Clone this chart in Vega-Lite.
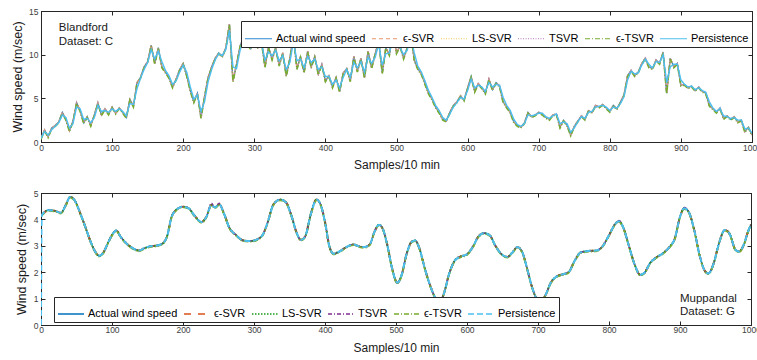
{
"$schema":"https://vega.github.io/schema/vega-lite/v6.json",
"padding":{"left":10,"top":6,"right":2,"bottom":0},
"config":{"font":"Liberation Sans","view":{"stroke":"#262626","strokeWidth":1},
"axis":{"grid":false,"tickSize":-4,"tickColor":"#262626","domainColor":"#262626","labelFontSize":8.5,"labelColor":"#404040","titleFontSize":12,"titleFontWeight":"normal","titleColor":"#1a1a1a","labelFont":"Liberation Sans","titleFont":"Liberation Sans","labelFlush":false,"labelOverlap":false,"labelBound":false},
"axisY":{"labelOverlap":false,"labelSeparation":0},"axisLeft":{"labelOverlap":false}},
"columns":1,"align":"none","spacing":17,
"resolve":{"scale":{"color":"independent","strokeDash":"independent"}},
"concat":[
{"width":711,"height":131,
"data":{"values":[
{"x":0,"a":0.4,"e":0.4,"l":0.4,"t":0.4,"g":0.3,"p":0.4},
{"x":5,"a":1.4,"e":1.4,"l":1.4,"t":1.4,"g":1.3,"p":1.2},
{"x":10,"a":0.6,"e":0.6,"l":0.6,"t":0.6,"g":0.5,"p":0.8},
{"x":15,"a":1.6,"e":1.6,"l":1.6,"t":1.6,"g":1.5,"p":1.4},
{"x":20,"a":1.9,"e":1.9,"l":1.9,"t":1.9,"g":1.8,"p":1.8},
{"x":25,"a":2.3,"e":2.3,"l":2.3,"t":2.3,"g":2.2,"p":2.2},
{"x":30,"a":3.4,"e":3.4,"l":3.4,"t":3.4,"g":3.3,"p":3.1},
{"x":35,"a":2.6,"e":2.6,"l":2.6,"t":2.6,"g":2.5,"p":2.8},
{"x":40,"a":1.3,"e":1.3,"l":1.3,"t":1.3,"g":1.2,"p":1.6},
{"x":45,"a":2.4,"e":2.4,"l":2.4,"t":2.4,"g":2.3,"p":2.1},
{"x":50,"a":4.5,"e":4.5,"l":4.5,"t":4.5,"g":4.4,"p":4.0},
{"x":55,"a":3.6,"e":3.6,"l":3.6,"t":3.6,"g":3.5,"p":3.8},
{"x":60,"a":2.2,"e":2.2,"l":2.2,"t":2.2,"g":2.1,"p":2.6},
{"x":65,"a":2.9,"e":2.9,"l":2.9,"t":2.9,"g":2.8,"p":2.7},
{"x":70,"a":1.9,"e":1.9,"l":1.9,"t":1.9,"g":1.8,"p":2.2},
{"x":75,"a":3.1,"e":3.1,"l":3.1,"t":3.1,"g":3.0,"p":2.8},
{"x":80,"a":4.5,"e":4.5,"l":4.5,"t":4.5,"g":4.4,"p":4.2},
{"x":85,"a":3.1,"e":3.1,"l":3.1,"t":3.1,"g":3.0,"p":3.5},
{"x":90,"a":3.8,"e":3.8,"l":3.8,"t":3.8,"g":3.7,"p":3.6},
{"x":95,"a":3.2,"e":3.2,"l":3.2,"t":3.2,"g":3.1,"p":3.4},
{"x":100,"a":4.0,"e":4.0,"l":4.0,"t":4.0,"g":3.9,"p":3.8},
{"x":105,"a":3.3,"e":3.3,"l":3.3,"t":3.3,"g":3.2,"p":3.5},
{"x":110,"a":3.9,"e":3.9,"l":3.9,"t":3.9,"g":3.8,"p":3.8},
{"x":115,"a":3.4,"e":3.4,"l":3.4,"t":3.4,"g":3.3,"p":3.5},
{"x":120,"a":2.8,"e":2.8,"l":2.8,"t":2.8,"g":2.7,"p":3.0},
{"x":125,"a":4.9,"e":4.9,"l":4.9,"t":4.9,"g":4.8,"p":4.4},
{"x":130,"a":4.1,"e":4.1,"l":4.1,"t":4.1,"g":4.0,"p":4.3},
{"x":135,"a":6.8,"e":6.8,"l":6.8,"t":6.8,"g":6.7,"p":6.1},
{"x":140,"a":7.4,"e":7.4,"l":7.4,"t":7.4,"g":7.3,"p":7.3},
{"x":145,"a":8.6,"e":8.6,"l":8.6,"t":8.6,"g":8.5,"p":8.3},
{"x":150,"a":9.2,"e":9.2,"l":9.2,"t":9.2,"g":9.1,"p":9.1},
{"x":155,"a":11.1,"e":11.1,"l":11.1,"t":11.1,"g":11.0,"p":10.6},
{"x":160,"a":9.0,"e":9.0,"l":9.0,"t":9.0,"g":8.9,"p":9.5},
{"x":165,"a":10.8,"e":10.8,"l":10.8,"t":10.8,"g":10.7,"p":10.4},
{"x":170,"a":8.6,"e":8.6,"l":8.6,"t":8.6,"g":8.5,"p":9.2},
{"x":175,"a":8.0,"e":8.0,"l":8.0,"t":8.0,"g":7.9,"p":8.2},
{"x":180,"a":7.4,"e":7.4,"l":7.4,"t":7.4,"g":7.3,"p":7.6},
{"x":185,"a":6.3,"e":6.3,"l":6.3,"t":6.3,"g":6.2,"p":6.6},
{"x":190,"a":7.2,"e":7.2,"l":7.2,"t":7.2,"g":7.1,"p":7.0},
{"x":195,"a":8.3,"e":8.3,"l":8.3,"t":8.3,"g":8.2,"p":8.0},
{"x":200,"a":9.0,"e":9.0,"l":9.0,"t":9.0,"g":8.9,"p":8.8},
{"x":205,"a":7.6,"e":7.6,"l":7.6,"t":7.6,"g":7.5,"p":8.0},
{"x":210,"a":5.9,"e":5.9,"l":5.9,"t":5.9,"g":5.8,"p":6.3},
{"x":215,"a":4.6,"e":4.6,"l":4.6,"t":4.6,"g":4.5,"p":4.9},
{"x":220,"a":5.6,"e":5.6,"l":5.6,"t":5.6,"g":5.5,"p":5.4},
{"x":225,"a":2.8,"e":2.8,"l":2.8,"t":2.8,"g":2.7,"p":3.5},
{"x":230,"a":5.2,"e":5.2,"l":5.2,"t":5.2,"g":5.1,"p":4.6},
{"x":235,"a":7.4,"e":7.4,"l":7.4,"t":7.4,"g":7.3,"p":6.9},
{"x":240,"a":8.6,"e":8.6,"l":8.6,"t":8.6,"g":8.5,"p":8.3},
{"x":245,"a":9.6,"e":9.6,"l":9.6,"t":9.6,"g":9.5,"p":9.4},
{"x":250,"a":10.2,"e":10.2,"l":10.2,"t":10.2,"g":10.1,"p":10.1},
{"x":255,"a":9.8,"e":9.8,"l":9.8,"t":9.8,"g":9.7,"p":9.9},
{"x":260,"a":10.8,"e":10.8,"l":10.8,"t":10.8,"g":10.7,"p":10.6},
{"x":265,"a":13.5,"e":13.5,"l":13.5,"t":13.5,"g":13.4,"p":12.8},
{"x":270,"a":7.0,"e":7.0,"l":7.0,"t":7.0,"g":6.9,"p":8.6},
{"x":275,"a":8.9,"e":8.9,"l":8.9,"t":8.9,"g":8.8,"p":8.4},
{"x":280,"a":11.0,"e":11.0,"l":11.0,"t":11.0,"g":10.9,"p":10.5},
{"x":285,"a":12.0,"e":12.0,"l":12.0,"t":12.0,"g":11.9,"p":11.8},
{"x":290,"a":11.2,"e":11.2,"l":11.2,"t":11.2,"g":11.1,"p":11.4},
{"x":295,"a":10.7,"e":10.7,"l":10.7,"t":10.7,"g":10.6,"p":10.8},
{"x":300,"a":11.8,"e":11.8,"l":11.8,"t":11.8,"g":11.7,"p":11.5},
{"x":305,"a":10.8,"e":10.8,"l":10.8,"t":10.8,"g":10.7,"p":11.1},
{"x":310,"a":11.6,"e":11.6,"l":11.6,"t":11.6,"g":11.5,"p":11.4},
{"x":315,"a":8.6,"e":8.6,"l":8.6,"t":8.6,"g":8.5,"p":9.4},
{"x":320,"a":10.9,"e":10.9,"l":10.9,"t":10.9,"g":10.8,"p":10.3},
{"x":325,"a":9.5,"e":9.5,"l":9.5,"t":9.5,"g":9.4,"p":9.9},
{"x":330,"a":10.8,"e":10.8,"l":10.8,"t":10.8,"g":10.7,"p":10.5},
{"x":335,"a":8.8,"e":8.8,"l":8.8,"t":8.8,"g":8.7,"p":9.3},
{"x":340,"a":10.2,"e":10.2,"l":10.2,"t":10.2,"g":10.1,"p":9.9},
{"x":345,"a":7.6,"e":7.6,"l":7.6,"t":7.6,"g":7.5,"p":8.3},
{"x":350,"a":9.6,"e":9.6,"l":9.6,"t":9.6,"g":9.5,"p":9.1},
{"x":355,"a":12.1,"e":12.1,"l":12.1,"t":12.1,"g":12.0,"p":11.5},
{"x":360,"a":8.4,"e":8.4,"l":8.4,"t":8.4,"g":8.3,"p":9.3},
{"x":365,"a":9.8,"e":9.8,"l":9.8,"t":9.8,"g":9.7,"p":9.5},
{"x":370,"a":8.0,"e":8.0,"l":8.0,"t":8.0,"g":7.9,"p":8.5},
{"x":375,"a":10.4,"e":10.4,"l":10.4,"t":10.4,"g":10.3,"p":9.8},
{"x":380,"a":8.6,"e":8.6,"l":8.6,"t":8.6,"g":8.5,"p":9.1},
{"x":385,"a":9.8,"e":9.8,"l":9.8,"t":9.8,"g":9.7,"p":9.5},
{"x":390,"a":7.8,"e":7.8,"l":7.8,"t":7.8,"g":7.7,"p":8.3},
{"x":395,"a":8.9,"e":8.9,"l":8.9,"t":8.9,"g":8.8,"p":8.6},
{"x":400,"a":7.0,"e":7.0,"l":7.0,"t":7.0,"g":6.9,"p":7.5},
{"x":405,"a":7.6,"e":7.6,"l":7.6,"t":7.6,"g":7.5,"p":7.5},
{"x":410,"a":6.3,"e":6.3,"l":6.3,"t":6.3,"g":6.2,"p":6.6},
{"x":415,"a":7.4,"e":7.4,"l":7.4,"t":7.4,"g":7.3,"p":7.1},
{"x":420,"a":5.8,"e":5.8,"l":5.8,"t":5.8,"g":5.7,"p":6.2},
{"x":425,"a":7.9,"e":7.9,"l":7.9,"t":7.9,"g":7.8,"p":7.4},
{"x":430,"a":8.4,"e":8.4,"l":8.4,"t":8.4,"g":8.3,"p":8.3},
{"x":435,"a":7.0,"e":7.0,"l":7.0,"t":7.0,"g":6.9,"p":7.4},
{"x":440,"a":9.8,"e":9.8,"l":9.8,"t":9.8,"g":9.7,"p":9.1},
{"x":445,"a":8.1,"e":8.1,"l":8.1,"t":8.1,"g":8.0,"p":8.5},
{"x":450,"a":9.6,"e":9.6,"l":9.6,"t":9.6,"g":9.5,"p":9.2},
{"x":455,"a":7.4,"e":7.4,"l":7.4,"t":7.4,"g":7.3,"p":8.0},
{"x":460,"a":10.4,"e":10.4,"l":10.4,"t":10.4,"g":10.3,"p":9.7},
{"x":465,"a":8.5,"e":8.5,"l":8.5,"t":8.5,"g":8.4,"p":9.0},
{"x":470,"a":10.1,"e":10.1,"l":10.1,"t":10.1,"g":10.0,"p":9.7},
{"x":475,"a":11.6,"e":11.6,"l":11.6,"t":11.6,"g":11.5,"p":11.2},
{"x":480,"a":7.9,"e":7.9,"l":7.9,"t":7.9,"g":7.8,"p":8.8},
{"x":485,"a":10.8,"e":10.8,"l":10.8,"t":10.8,"g":10.7,"p":10.1},
{"x":490,"a":10.0,"e":10.0,"l":10.0,"t":10.0,"g":9.9,"p":10.2},
{"x":495,"a":12.8,"e":12.8,"l":12.8,"t":12.8,"g":12.7,"p":12.1},
{"x":500,"a":10.2,"e":10.2,"l":10.2,"t":10.2,"g":10.1,"p":10.9},
{"x":505,"a":11.0,"e":11.0,"l":11.0,"t":11.0,"g":10.9,"p":10.8},
{"x":510,"a":9.6,"e":9.6,"l":9.6,"t":9.6,"g":9.5,"p":10.0},
{"x":515,"a":10.8,"e":10.8,"l":10.8,"t":10.8,"g":10.7,"p":10.5},
{"x":520,"a":12.5,"e":12.5,"l":12.5,"t":12.5,"g":12.4,"p":12.1},
{"x":525,"a":9.4,"e":9.4,"l":9.4,"t":9.4,"g":9.3,"p":10.2},
{"x":530,"a":8.4,"e":8.4,"l":8.4,"t":8.4,"g":8.3,"p":8.7},
{"x":535,"a":7.8,"e":7.8,"l":7.8,"t":7.8,"g":7.7,"p":8.0},
{"x":540,"a":6.7,"e":6.7,"l":6.7,"t":6.7,"g":6.6,"p":7.0},
{"x":545,"a":5.6,"e":5.6,"l":5.6,"t":5.6,"g":5.5,"p":5.9},
{"x":550,"a":4.9,"e":4.9,"l":4.9,"t":4.9,"g":4.8,"p":5.1},
{"x":555,"a":4.0,"e":4.0,"l":4.0,"t":4.0,"g":3.9,"p":4.2},
{"x":560,"a":3.4,"e":3.4,"l":3.4,"t":3.4,"g":3.3,"p":3.6},
{"x":565,"a":2.6,"e":2.6,"l":2.6,"t":2.6,"g":2.5,"p":2.8},
{"x":570,"a":2.4,"e":2.4,"l":2.4,"t":2.4,"g":2.3,"p":2.5},
{"x":575,"a":3.4,"e":3.4,"l":3.4,"t":3.4,"g":3.3,"p":3.2},
{"x":580,"a":4.2,"e":4.2,"l":4.2,"t":4.2,"g":4.1,"p":4.0},
{"x":585,"a":4.6,"e":4.6,"l":4.6,"t":4.6,"g":4.5,"p":4.5},
{"x":590,"a":5.3,"e":5.3,"l":5.3,"t":5.3,"g":5.2,"p":5.1},
{"x":595,"a":4.8,"e":4.8,"l":4.8,"t":4.8,"g":4.7,"p":4.9},
{"x":600,"a":6.2,"e":6.2,"l":6.2,"t":6.2,"g":6.1,"p":5.9},
{"x":605,"a":7.5,"e":7.5,"l":7.5,"t":7.5,"g":7.4,"p":7.2},
{"x":610,"a":5.8,"e":5.8,"l":5.8,"t":5.8,"g":5.7,"p":6.2},
{"x":615,"a":6.7,"e":6.7,"l":6.7,"t":6.7,"g":6.6,"p":6.5},
{"x":620,"a":6.2,"e":6.2,"l":6.2,"t":6.2,"g":6.1,"p":6.3},
{"x":625,"a":5.6,"e":5.6,"l":5.6,"t":5.6,"g":5.5,"p":5.8},
{"x":630,"a":7.2,"e":7.2,"l":7.2,"t":7.2,"g":7.1,"p":6.8},
{"x":635,"a":6.0,"e":6.0,"l":6.0,"t":6.0,"g":5.9,"p":6.3},
{"x":640,"a":6.8,"e":6.8,"l":6.8,"t":6.8,"g":6.7,"p":6.6},
{"x":645,"a":6.4,"e":6.4,"l":6.4,"t":6.4,"g":6.3,"p":6.5},
{"x":650,"a":4.6,"e":4.6,"l":4.6,"t":4.6,"g":4.5,"p":5.1},
{"x":655,"a":4.0,"e":4.0,"l":4.0,"t":4.0,"g":3.9,"p":4.2},
{"x":660,"a":3.4,"e":3.4,"l":3.4,"t":3.4,"g":3.3,"p":3.6},
{"x":665,"a":2.3,"e":2.3,"l":2.3,"t":2.3,"g":2.2,"p":2.6},
{"x":670,"a":1.9,"e":1.9,"l":1.9,"t":1.9,"g":1.8,"p":2.0},
{"x":675,"a":1.7,"e":1.7,"l":1.7,"t":1.7,"g":1.6,"p":1.8},
{"x":680,"a":2.2,"e":2.2,"l":2.2,"t":2.2,"g":2.1,"p":2.1},
{"x":685,"a":3.4,"e":3.4,"l":3.4,"t":3.4,"g":3.3,"p":3.1},
{"x":690,"a":2.9,"e":2.9,"l":2.9,"t":2.9,"g":2.8,"p":3.0},
{"x":695,"a":3.1,"e":3.1,"l":3.1,"t":3.1,"g":3.0,"p":3.1},
{"x":700,"a":3.4,"e":3.4,"l":3.4,"t":3.4,"g":3.3,"p":3.3},
{"x":705,"a":3.2,"e":3.2,"l":3.2,"t":3.2,"g":3.1,"p":3.3},
{"x":710,"a":2.8,"e":2.8,"l":2.8,"t":2.8,"g":2.7,"p":2.9},
{"x":715,"a":2.6,"e":2.6,"l":2.6,"t":2.6,"g":2.5,"p":2.7},
{"x":720,"a":3.1,"e":3.1,"l":3.1,"t":3.1,"g":3.0,"p":3.0},
{"x":725,"a":3.2,"e":3.2,"l":3.2,"t":3.2,"g":3.1,"p":3.2},
{"x":730,"a":1.7,"e":1.7,"l":1.7,"t":1.7,"g":1.6,"p":2.1},
{"x":735,"a":2.5,"e":2.5,"l":2.5,"t":2.5,"g":2.4,"p":2.3},
{"x":740,"a":1.9,"e":1.9,"l":1.9,"t":1.9,"g":1.8,"p":2.1},
{"x":745,"a":0.8,"e":0.8,"l":0.8,"t":0.8,"g":0.7,"p":1.1},
{"x":750,"a":1.8,"e":1.8,"l":1.8,"t":1.8,"g":1.7,"p":1.6},
{"x":755,"a":2.4,"e":2.4,"l":2.4,"t":2.4,"g":2.3,"p":2.3},
{"x":760,"a":3.0,"e":3.0,"l":3.0,"t":3.0,"g":2.9,"p":2.9},
{"x":765,"a":2.6,"e":2.6,"l":2.6,"t":2.6,"g":2.5,"p":2.7},
{"x":770,"a":3.6,"e":3.6,"l":3.6,"t":3.6,"g":3.5,"p":3.4},
{"x":775,"a":3.4,"e":3.4,"l":3.4,"t":3.4,"g":3.3,"p":3.5},
{"x":780,"a":4.2,"e":4.2,"l":4.2,"t":4.2,"g":4.1,"p":4.0},
{"x":785,"a":4.0,"e":4.0,"l":4.0,"t":4.0,"g":3.9,"p":4.1},
{"x":790,"a":4.3,"e":4.3,"l":4.3,"t":4.3,"g":4.2,"p":4.2},
{"x":795,"a":3.9,"e":3.9,"l":3.9,"t":3.9,"g":3.8,"p":4.0},
{"x":800,"a":3.5,"e":3.5,"l":3.5,"t":3.5,"g":3.4,"p":3.6},
{"x":805,"a":4.2,"e":4.2,"l":4.2,"t":4.2,"g":4.1,"p":4.0},
{"x":810,"a":3.8,"e":3.8,"l":3.8,"t":3.8,"g":3.7,"p":3.9},
{"x":815,"a":4.6,"e":4.6,"l":4.6,"t":4.6,"g":4.5,"p":4.4},
{"x":820,"a":5.4,"e":5.4,"l":5.4,"t":5.4,"g":5.3,"p":5.2},
{"x":825,"a":7.6,"e":7.6,"l":7.6,"t":7.6,"g":7.5,"p":7.1},
{"x":830,"a":8.2,"e":8.2,"l":8.2,"t":8.2,"g":8.1,"p":8.1},
{"x":835,"a":7.6,"e":7.6,"l":7.6,"t":7.6,"g":7.5,"p":7.8},
{"x":840,"a":8.0,"e":8.0,"l":8.0,"t":8.0,"g":7.9,"p":7.9},
{"x":845,"a":9.0,"e":9.0,"l":9.0,"t":9.0,"g":8.9,"p":8.8},
{"x":850,"a":9.6,"e":9.6,"l":9.6,"t":9.6,"g":9.5,"p":9.5},
{"x":855,"a":8.6,"e":8.6,"l":8.6,"t":8.6,"g":8.5,"p":8.9},
{"x":860,"a":8.4,"e":8.4,"l":8.4,"t":8.4,"g":8.3,"p":8.5},
{"x":865,"a":9.4,"e":9.4,"l":9.4,"t":9.4,"g":9.3,"p":9.2},
{"x":870,"a":9.0,"e":9.0,"l":9.0,"t":9.0,"g":8.9,"p":9.1},
{"x":875,"a":10.3,"e":10.3,"l":10.3,"t":10.3,"g":10.2,"p":10.0},
{"x":880,"a":5.6,"e":5.6,"l":5.6,"t":5.6,"g":5.5,"p":6.8},
{"x":885,"a":9.6,"e":9.6,"l":9.6,"t":9.6,"g":9.5,"p":8.6},
{"x":890,"a":8.6,"e":8.6,"l":8.6,"t":8.6,"g":8.5,"p":8.9},
{"x":895,"a":9.0,"e":9.0,"l":9.0,"t":9.0,"g":8.9,"p":8.9},
{"x":900,"a":6.5,"e":6.5,"l":6.5,"t":6.5,"g":6.4,"p":7.1},
{"x":905,"a":6.6,"e":6.6,"l":6.6,"t":6.6,"g":6.5,"p":6.6},
{"x":910,"a":6.2,"e":6.2,"l":6.2,"t":6.2,"g":6.1,"p":6.3},
{"x":915,"a":6.4,"e":6.4,"l":6.4,"t":6.4,"g":6.3,"p":6.4},
{"x":920,"a":5.9,"e":5.9,"l":5.9,"t":5.9,"g":5.8,"p":6.0},
{"x":925,"a":6.3,"e":6.3,"l":6.3,"t":6.3,"g":6.2,"p":6.2},
{"x":930,"a":5.8,"e":5.8,"l":5.8,"t":5.8,"g":5.7,"p":5.9},
{"x":935,"a":5.6,"e":5.6,"l":5.6,"t":5.6,"g":5.5,"p":5.7},
{"x":940,"a":4.2,"e":4.2,"l":4.2,"t":4.2,"g":4.1,"p":4.6},
{"x":945,"a":3.8,"e":3.8,"l":3.8,"t":3.8,"g":3.7,"p":3.9},
{"x":950,"a":3.4,"e":3.4,"l":3.4,"t":3.4,"g":3.3,"p":3.5},
{"x":955,"a":3.9,"e":3.9,"l":3.9,"t":3.9,"g":3.8,"p":3.8},
{"x":960,"a":2.7,"e":2.7,"l":2.7,"t":2.7,"g":2.6,"p":3.0},
{"x":965,"a":3.0,"e":3.0,"l":3.0,"t":3.0,"g":2.9,"p":2.9},
{"x":970,"a":2.6,"e":2.6,"l":2.6,"t":2.6,"g":2.5,"p":2.7},
{"x":975,"a":2.9,"e":2.9,"l":2.9,"t":2.9,"g":2.8,"p":2.8},
{"x":980,"a":2.3,"e":2.3,"l":2.3,"t":2.3,"g":2.2,"p":2.5},
{"x":985,"a":2.5,"e":2.5,"l":2.5,"t":2.5,"g":2.4,"p":2.5},
{"x":990,"a":1.2,"e":1.2,"l":1.2,"t":1.2,"g":1.1,"p":1.5},
{"x":995,"a":1.7,"e":1.7,"l":1.7,"t":1.7,"g":1.6,"p":1.6},
{"x":1000,"a":0.8,"e":0.8,"l":0.8,"t":0.8,"g":0.7,"p":1.0}
]},
"layer":[
{"encoding":{"x":{"field":"x","type":"quantitative","title":"Samples/10 min","scale":{"domain":[0,1000],"nice":false,"zero":false},"axis":{"values":[0,100,200,300,400,500,600,700,800,900,1000],"labelPadding":5,"titlePadding":8,"labelOverlap":false,"format":"d"}}},
"layer":[
{"mark":{"type":"line","strokeWidth":1.3,"clip":true},"encoding":{"y":{"field":"a","type":"quantitative","title":"Wind speed (m/sec)","scale":{"domain":[0,15],"nice":false},"axis":{"values":[0,5,10,15],"labelPadding":7,"titlePadding":3,"minExtent":14,"maxExtent":14,"titleFontSize":12.5,"labelOverlap":false}},
"color":{"datum":"Actual wind speed","scale":{"domain":["Actual wind speed","ϵ-SVR","LS-SVR","TSVR","ϵ-TSVR","Persistence"],"range":["#2f86cf","#e8956a","#f0c85a","#b878c0","#77AC30","#4DBEEE"]},"legend":{"orient":"none","legendX":200,"legendY":10,"direction":"horizontal","columns":6,"title":null,"fillColor":"#ffffff","strokeColor":"#262626","padding":3,"symbolType":"stroke","symbolSize":729,"symbolStrokeWidth":1.2,"labelFontSize":11,"labelFont":"Liberation Sans","labelColor":"#000000","labelOffset":3,"columnPadding":3,"labelLimit":300}},
"strokeDash":{"datum":"Actual wind speed","scale":{"domain":["Actual wind speed","ϵ-SVR","LS-SVR","TSVR","ϵ-TSVR","Persistence"],"range":[[1,0],[4,3],[1,1.5],[1,1.5],[5,2,1,2],[1,0]]},"legend":{"orient":"none","legendX":200,"legendY":10,"direction":"horizontal","columns":6,"title":null,"fillColor":"#ffffff","strokeColor":"#262626","padding":3,"symbolType":"stroke","symbolSize":729,"symbolStrokeWidth":1.2,"labelFontSize":11,"labelFont":"Liberation Sans","labelColor":"#000000","labelOffset":3,"columnPadding":3,"labelLimit":300}}}},
{"mark":{"type":"line","strokeWidth":1.3,"clip":true},"encoding":{"y":{"field":"e","type":"quantitative","title":"Wind speed (m/sec)","scale":{"domain":[0,15],"nice":false}},"color":{"datum":"ϵ-SVR"},"strokeDash":{"datum":"ϵ-SVR"}}},
{"mark":{"type":"line","strokeWidth":1.3,"clip":true},"encoding":{"y":{"field":"l","type":"quantitative","title":"Wind speed (m/sec)","scale":{"domain":[0,15],"nice":false}},"color":{"datum":"LS-SVR"},"strokeDash":{"datum":"LS-SVR"}}},
{"mark":{"type":"line","strokeWidth":1.3,"clip":true},"encoding":{"y":{"field":"t","type":"quantitative","title":"Wind speed (m/sec)","scale":{"domain":[0,15],"nice":false}},"color":{"datum":"TSVR"},"strokeDash":{"datum":"TSVR"}}},
{"mark":{"type":"line","strokeWidth":1.6,"clip":true},"encoding":{"y":{"field":"g","type":"quantitative","title":"Wind speed (m/sec)","scale":{"domain":[0,15],"nice":false}},"color":{"datum":"ϵ-TSVR"},"strokeDash":{"datum":"ϵ-TSVR"}}},
{"mark":{"type":"line","strokeWidth":1.4,"clip":true},"encoding":{"y":{"field":"p","type":"quantitative","title":"Wind speed (m/sec)","scale":{"domain":[0,15],"nice":false}},"color":{"datum":"Persistence"},"strokeDash":{"datum":"Persistence"}}},
{"data":{"values":[{"x":25,"v":13.0,"s":"Blandford"},{"x":25,"v":11.4,"s":"Dataset: C"}]},"mark":{"type":"text","align":"left","baseline":"middle","fontSize":11.5,"font":"Liberation Sans","color":"#1a1a1a"},"encoding":{"y":{"field":"v","type":"quantitative","title":"Wind speed (m/sec)","scale":{"domain":[0,15],"nice":false}},"text":{"field":"s"}}}
]},
{"mark":{"type":"point","opacity":0},"encoding":{"x":{"field":"x","type":"quantitative","scale":{"domain":[0,1000],"nice":false,"zero":false},"axis":{"orient":"top","labels":false,"title":null,"values":[0,100,200,300,400,500,600,700,800,900,1000]}},"y":{"field":"a","type":"quantitative","scale":{"domain":[0,15],"nice":false},"axis":{"orient":"right","labels":false,"title":null,"values":[0,5,10,15]}}}}
],
"resolve":{"axis":{"x":"independent","y":"independent"}}
},
{"width":710,"height":132,
"data":{"values":[
{"x":0,"a":4.15,"e":4.15,"l":4.15,"t":4.15,"g":4.12,"p":0},
{"x":1,"a":4.17,"e":4.17,"l":4.17,"t":4.17,"g":4.14,"p":4.15},
{"x":10,"a":4.35,"e":4.35,"l":4.35,"t":4.35,"g":4.32,"p":4.35},
{"x":20,"a":4.32,"e":4.32,"l":4.32,"t":4.32,"g":4.29,"p":4.32},
{"x":28,"a":4.25,"e":4.25,"l":4.25,"t":4.25,"g":4.22,"p":4.25},
{"x":35,"a":4.55,"e":4.55,"l":4.55,"t":4.55,"g":4.52,"p":4.55},
{"x":41,"a":4.85,"e":4.85,"l":4.85,"t":4.85,"g":4.82,"p":4.85},
{"x":48,"a":4.7,"e":4.7,"l":4.7,"t":4.7,"g":4.67,"p":4.7},
{"x":55,"a":4.25,"e":4.25,"l":4.25,"t":4.25,"g":4.22,"p":4.25},
{"x":62,"a":3.75,"e":3.75,"l":3.75,"t":3.75,"g":3.72,"p":3.75},
{"x":70,"a":3.15,"e":3.15,"l":3.15,"t":3.15,"g":3.12,"p":3.15},
{"x":77,"a":2.75,"e":2.75,"l":2.75,"t":2.75,"g":2.72,"p":2.75},
{"x":82,"a":2.62,"e":2.62,"l":2.62,"t":2.62,"g":2.59,"p":2.62},
{"x":88,"a":2.75,"e":2.75,"l":2.75,"t":2.75,"g":2.72,"p":2.75},
{"x":95,"a":3.15,"e":3.15,"l":3.15,"t":3.15,"g":3.12,"p":3.15},
{"x":101,"a":3.45,"e":3.45,"l":3.45,"t":3.45,"g":3.42,"p":3.45},
{"x":106,"a":3.58,"e":3.58,"l":3.58,"t":3.6,"g":3.55,"p":3.58},
{"x":112,"a":3.35,"e":3.35,"l":3.35,"t":3.35,"g":3.32,"p":3.35},
{"x":120,"a":3.1,"e":3.1,"l":3.1,"t":3.1,"g":3.07,"p":3.1},
{"x":130,"a":2.9,"e":2.9,"l":2.9,"t":2.9,"g":2.87,"p":2.9},
{"x":138,"a":2.82,"e":2.82,"l":2.82,"t":2.82,"g":2.79,"p":2.82},
{"x":145,"a":2.9,"e":2.9,"l":2.9,"t":2.9,"g":2.87,"p":2.9},
{"x":152,"a":2.97,"e":2.97,"l":2.97,"t":2.97,"g":2.94,"p":2.97},
{"x":165,"a":3.02,"e":3.02,"l":3.02,"t":3.02,"g":2.99,"p":3.02},
{"x":172,"a":3.1,"e":3.1,"l":3.1,"t":3.1,"g":3.07,"p":3.1},
{"x":178,"a":3.4,"e":3.4,"l":3.4,"t":3.4,"g":3.37,"p":3.4},
{"x":184,"a":4.1,"e":4.1,"l":4.1,"t":4.1,"g":4.07,"p":4.1},
{"x":190,"a":4.35,"e":4.35,"l":4.35,"t":4.35,"g":4.32,"p":4.35},
{"x":200,"a":4.48,"e":4.48,"l":4.48,"t":4.48,"g":4.45,"p":4.48},
{"x":208,"a":4.42,"e":4.42,"l":4.42,"t":4.42,"g":4.39,"p":4.42},
{"x":216,"a":4.15,"e":4.15,"l":4.15,"t":4.15,"g":4.12,"p":4.15},
{"x":226,"a":3.9,"e":3.9,"l":3.9,"t":3.9,"g":3.87,"p":3.9},
{"x":233,"a":4.1,"e":4.1,"l":4.1,"t":4.1,"g":4.07,"p":4.1},
{"x":240,"a":4.55,"e":4.55,"l":4.55,"t":4.62,"g":4.52,"p":4.55},
{"x":245,"a":4.45,"e":4.45,"l":4.45,"t":4.45,"g":4.42,"p":4.45},
{"x":251,"a":4.57,"e":4.57,"l":4.57,"t":4.62,"g":4.54,"p":4.57},
{"x":258,"a":4.2,"e":4.2,"l":4.2,"t":4.2,"g":4.17,"p":4.2},
{"x":265,"a":3.7,"e":3.7,"l":3.7,"t":3.7,"g":3.67,"p":3.7},
{"x":275,"a":3.4,"e":3.4,"l":3.4,"t":3.4,"g":3.37,"p":3.4},
{"x":285,"a":3.2,"e":3.2,"l":3.2,"t":3.2,"g":3.17,"p":3.2},
{"x":295,"a":3.18,"e":3.18,"l":3.18,"t":3.18,"g":3.15,"p":3.18},
{"x":305,"a":3.25,"e":3.25,"l":3.25,"t":3.25,"g":3.22,"p":3.25},
{"x":313,"a":3.45,"e":3.45,"l":3.45,"t":3.45,"g":3.42,"p":3.45},
{"x":320,"a":3.95,"e":3.95,"l":3.95,"t":3.95,"g":3.92,"p":3.95},
{"x":327,"a":4.55,"e":4.55,"l":4.55,"t":4.55,"g":4.52,"p":4.55},
{"x":337,"a":4.75,"e":4.75,"l":4.75,"t":4.75,"g":4.72,"p":4.75},
{"x":345,"a":4.65,"e":4.65,"l":4.65,"t":4.65,"g":4.62,"p":4.65},
{"x":352,"a":4.2,"e":4.2,"l":4.2,"t":4.2,"g":4.17,"p":4.2},
{"x":360,"a":3.5,"e":3.5,"l":3.5,"t":3.5,"g":3.47,"p":3.5},
{"x":366,"a":3.22,"e":3.22,"l":3.22,"t":3.22,"g":3.19,"p":3.22},
{"x":372,"a":3.35,"e":3.35,"l":3.35,"t":3.35,"g":3.32,"p":3.35},
{"x":380,"a":4.2,"e":4.2,"l":4.2,"t":4.2,"g":4.17,"p":4.2},
{"x":388,"a":4.75,"e":4.75,"l":4.75,"t":4.75,"g":4.72,"p":4.75},
{"x":394,"a":4.55,"e":4.55,"l":4.55,"t":4.55,"g":4.52,"p":4.55},
{"x":400,"a":3.9,"e":3.9,"l":3.9,"t":3.9,"g":3.87,"p":3.9},
{"x":406,"a":3.0,"e":3.0,"l":3.0,"t":3.0,"g":2.97,"p":3.0},
{"x":412,"a":2.7,"e":2.7,"l":2.7,"t":2.7,"g":2.67,"p":2.7},
{"x":420,"a":2.78,"e":2.78,"l":2.78,"t":2.78,"g":2.75,"p":2.78},
{"x":430,"a":2.95,"e":2.95,"l":2.95,"t":2.95,"g":2.92,"p":2.95},
{"x":440,"a":3.05,"e":3.05,"l":3.05,"t":3.05,"g":3.02,"p":3.05},
{"x":448,"a":2.98,"e":2.98,"l":2.98,"t":2.98,"g":2.95,"p":2.98},
{"x":455,"a":2.95,"e":2.95,"l":2.95,"t":2.95,"g":2.92,"p":2.95},
{"x":463,"a":3.05,"e":3.05,"l":3.05,"t":3.05,"g":3.02,"p":3.05},
{"x":470,"a":3.55,"e":3.55,"l":3.55,"t":3.55,"g":3.52,"p":3.55},
{"x":476,"a":3.8,"e":3.8,"l":3.8,"t":3.8,"g":3.77,"p":3.8},
{"x":482,"a":3.6,"e":3.6,"l":3.6,"t":3.6,"g":3.57,"p":3.6},
{"x":488,"a":3.0,"e":3.0,"l":3.0,"t":3.0,"g":2.97,"p":3.0},
{"x":494,"a":2.2,"e":2.2,"l":2.2,"t":2.2,"g":2.17,"p":2.2},
{"x":502,"a":1.6,"e":1.6,"l":1.6,"t":1.6,"g":1.57,"p":1.6},
{"x":508,"a":1.9,"e":1.9,"l":1.9,"t":1.9,"g":1.87,"p":1.9},
{"x":515,"a":2.7,"e":2.7,"l":2.7,"t":2.7,"g":2.67,"p":2.7},
{"x":522,"a":3.15,"e":3.15,"l":3.15,"t":3.15,"g":3.12,"p":3.15},
{"x":527,"a":3.2,"e":3.2,"l":3.2,"t":3.2,"g":3.17,"p":3.2},
{"x":533,"a":2.9,"e":2.9,"l":2.9,"t":2.9,"g":2.87,"p":2.9},
{"x":540,"a":2.2,"e":2.2,"l":2.2,"t":2.2,"g":2.17,"p":2.2},
{"x":548,"a":1.5,"e":1.5,"l":1.5,"t":1.5,"g":1.47,"p":1.5},
{"x":555,"a":1.05,"e":1.05,"l":1.05,"t":1.05,"g":1.02,"p":1.05},
{"x":561,"a":0.85,"e":0.85,"l":0.85,"t":0.85,"g":0.82,"p":0.85},
{"x":567,"a":1.15,"e":1.15,"l":1.15,"t":1.15,"g":1.12,"p":1.15},
{"x":575,"a":1.95,"e":1.95,"l":1.95,"t":1.95,"g":1.92,"p":1.95},
{"x":583,"a":2.45,"e":2.45,"l":2.45,"t":2.45,"g":2.42,"p":2.45},
{"x":590,"a":2.58,"e":2.58,"l":2.58,"t":2.58,"g":2.55,"p":2.58},
{"x":600,"a":2.68,"e":2.68,"l":2.68,"t":2.68,"g":2.65,"p":2.68},
{"x":608,"a":2.95,"e":2.95,"l":2.95,"t":2.95,"g":2.92,"p":2.95},
{"x":616,"a":3.35,"e":3.35,"l":3.35,"t":3.35,"g":3.32,"p":3.35},
{"x":624,"a":3.48,"e":3.48,"l":3.48,"t":3.48,"g":3.45,"p":3.48},
{"x":632,"a":3.4,"e":3.4,"l":3.4,"t":3.4,"g":3.37,"p":3.4},
{"x":640,"a":3.0,"e":3.0,"l":3.0,"t":3.0,"g":2.97,"p":3.0},
{"x":650,"a":2.65,"e":2.65,"l":2.65,"t":2.65,"g":2.62,"p":2.65},
{"x":657,"a":2.58,"e":2.58,"l":2.58,"t":2.58,"g":2.55,"p":2.58},
{"x":664,"a":2.75,"e":2.75,"l":2.75,"t":2.75,"g":2.72,"p":2.75},
{"x":671,"a":2.95,"e":2.95,"l":2.95,"t":2.95,"g":2.92,"p":2.95},
{"x":678,"a":2.75,"e":2.75,"l":2.75,"t":2.75,"g":2.72,"p":2.75},
{"x":685,"a":2.1,"e":2.1,"l":2.1,"t":2.1,"g":2.07,"p":2.1},
{"x":692,"a":1.4,"e":1.4,"l":1.4,"t":1.4,"g":1.37,"p":1.4},
{"x":698,"a":1.0,"e":1.0,"l":1.0,"t":1.0,"g":0.97,"p":1.0},
{"x":703,"a":0.85,"e":0.85,"l":0.85,"t":0.85,"g":0.82,"p":0.85},
{"x":710,"a":1.1,"e":1.1,"l":1.1,"t":1.1,"g":1.07,"p":1.1},
{"x":718,"a":1.6,"e":1.6,"l":1.6,"t":1.6,"g":1.57,"p":1.6},
{"x":727,"a":1.85,"e":1.85,"l":1.85,"t":1.85,"g":1.82,"p":1.85},
{"x":735,"a":1.92,"e":1.92,"l":1.92,"t":1.92,"g":1.89,"p":1.92},
{"x":743,"a":2.0,"e":2.0,"l":2.0,"t":2.0,"g":1.97,"p":2.0},
{"x":752,"a":2.45,"e":2.45,"l":2.45,"t":2.45,"g":2.42,"p":2.45},
{"x":760,"a":2.75,"e":2.75,"l":2.75,"t":2.75,"g":2.72,"p":2.75},
{"x":770,"a":2.8,"e":2.8,"l":2.8,"t":2.8,"g":2.77,"p":2.8},
{"x":782,"a":2.82,"e":2.82,"l":2.82,"t":2.82,"g":2.79,"p":2.82},
{"x":790,"a":2.95,"e":2.95,"l":2.95,"t":2.95,"g":2.92,"p":2.95},
{"x":800,"a":3.4,"e":3.4,"l":3.4,"t":3.4,"g":3.37,"p":3.4},
{"x":808,"a":3.8,"e":3.8,"l":3.8,"t":3.8,"g":3.77,"p":3.8},
{"x":814,"a":3.93,"e":3.93,"l":3.93,"t":3.96,"g":3.9,"p":3.93},
{"x":820,"a":3.7,"e":3.7,"l":3.7,"t":3.7,"g":3.67,"p":3.7},
{"x":828,"a":3.0,"e":3.0,"l":3.0,"t":3.0,"g":2.97,"p":3.0},
{"x":836,"a":2.3,"e":2.3,"l":2.3,"t":2.3,"g":2.27,"p":2.3},
{"x":844,"a":1.9,"e":1.9,"l":1.9,"t":1.88,"g":1.87,"p":1.9},
{"x":850,"a":1.98,"e":1.98,"l":1.98,"t":1.98,"g":1.95,"p":1.98},
{"x":858,"a":2.35,"e":2.35,"l":2.35,"t":2.35,"g":2.32,"p":2.35},
{"x":866,"a":2.55,"e":2.55,"l":2.55,"t":2.55,"g":2.52,"p":2.55},
{"x":875,"a":2.7,"e":2.7,"l":2.7,"t":2.7,"g":2.67,"p":2.7},
{"x":885,"a":2.95,"e":2.95,"l":2.95,"t":2.95,"g":2.92,"p":2.95},
{"x":893,"a":3.3,"e":3.3,"l":3.3,"t":3.3,"g":3.27,"p":3.3},
{"x":900,"a":4.1,"e":4.1,"l":4.1,"t":4.1,"g":4.07,"p":4.1},
{"x":906,"a":4.42,"e":4.42,"l":4.42,"t":4.45,"g":4.39,"p":4.42},
{"x":912,"a":4.3,"e":4.3,"l":4.3,"t":4.3,"g":4.27,"p":4.3},
{"x":920,"a":3.6,"e":3.6,"l":3.6,"t":3.6,"g":3.57,"p":3.6},
{"x":928,"a":2.6,"e":2.6,"l":2.6,"t":2.6,"g":2.57,"p":2.6},
{"x":935,"a":2.05,"e":2.05,"l":2.05,"t":2.05,"g":2.02,"p":2.05},
{"x":940,"a":1.95,"e":1.95,"l":1.95,"t":1.95,"g":1.92,"p":1.95},
{"x":947,"a":2.3,"e":2.3,"l":2.3,"t":2.3,"g":2.27,"p":2.3},
{"x":955,"a":3.1,"e":3.1,"l":3.1,"t":3.1,"g":3.07,"p":3.1},
{"x":963,"a":3.6,"e":3.6,"l":3.6,"t":3.6,"g":3.57,"p":3.6},
{"x":970,"a":3.45,"e":3.45,"l":3.45,"t":3.45,"g":3.42,"p":3.45},
{"x":978,"a":2.85,"e":2.85,"l":2.85,"t":2.85,"g":2.82,"p":2.85},
{"x":983,"a":2.78,"e":2.78,"l":2.78,"t":2.78,"g":2.75,"p":2.78},
{"x":990,"a":3.05,"e":3.05,"l":3.05,"t":3.05,"g":3.02,"p":3.05},
{"x":996,"a":3.55,"e":3.55,"l":3.55,"t":3.55,"g":3.52,"p":3.55},
{"x":1000,"a":3.8,"e":3.8,"l":3.8,"t":3.8,"g":3.77,"p":3.8}
]},
"layer":[
{"encoding":{"x":{"field":"x","type":"quantitative","title":"Samples/10 min","scale":{"domain":[0,1000],"nice":false,"zero":false},"axis":{"values":[0,100,200,300,400,500,600,700,800,900,1000],"labelPadding":4.5,"titlePadding":8.5,"labelOverlap":false,"format":"d"}}},
"layer":[
{"mark":{"type":"line","strokeWidth":1.5,"interpolate":"monotone","clip":true},"encoding":{"y":{"field":"a","type":"quantitative","title":"Wind speed (m/sec)","scale":{"domain":[0,5],"nice":false},"axis":{"values":[0,1,2,3,4,5],"tickCount":6,"labelPadding":7,"titlePadding":3,"minExtent":10,"maxExtent":10,"titleFontSize":12.5,"labelOverlap":false,"labelSeparation":0}},
"color":{"datum":"Actual wind speed","scale":{"domain":["Actual wind speed","ϵ-SVR","LS-SVR","TSVR","ϵ-TSVR","Persistence"],"range":["#0072BD","#D95319","#1a9a1a","#7E2F8E","#77AC30","#4DBEEE"]},"legend":{"orient":"none","legendX":13,"legendY":104,"direction":"horizontal","columns":6,"title":null,"fillColor":"#ffffff","strokeColor":"#262626","padding":3,"symbolType":"stroke","symbolSize":676,"symbolStrokeWidth":1.5,"labelFontSize":11,"labelFont":"Liberation Sans","labelColor":"#000000","labelOffset":3,"columnPadding":3,"labelLimit":300}},
"strokeDash":{"datum":"Actual wind speed","scale":{"domain":["Actual wind speed","ϵ-SVR","LS-SVR","TSVR","ϵ-TSVR","Persistence"],"range":[[1,0],[7,7],[1.5,1.5],[4,2,1,2],[5,2,1,2],[6,3]]},"legend":{"orient":"none","legendX":13,"legendY":104,"direction":"horizontal","columns":6,"title":null,"fillColor":"#ffffff","strokeColor":"#262626","padding":3,"symbolType":"stroke","symbolSize":676,"symbolStrokeWidth":1.5,"labelFontSize":11,"labelFont":"Liberation Sans","labelColor":"#000000","labelOffset":3,"columnPadding":3,"labelLimit":300}}}},
{"mark":{"type":"line","strokeWidth":2,"interpolate":"monotone","clip":true},"encoding":{"y":{"field":"e","type":"quantitative","title":"Wind speed (m/sec)","scale":{"domain":[0,5],"nice":false}},"color":{"datum":"ϵ-SVR"},"strokeDash":{"datum":"ϵ-SVR"}}},
{"mark":{"type":"line","strokeWidth":2,"interpolate":"monotone","clip":true},"encoding":{"y":{"field":"l","type":"quantitative","title":"Wind speed (m/sec)","scale":{"domain":[0,5],"nice":false}},"color":{"datum":"LS-SVR"},"strokeDash":{"datum":"LS-SVR"}}},
{"mark":{"type":"line","strokeWidth":1.3,"interpolate":"monotone","clip":true},"encoding":{"y":{"field":"t","type":"quantitative","title":"Wind speed (m/sec)","scale":{"domain":[0,5],"nice":false}},"color":{"datum":"TSVR"},"strokeDash":{"datum":"TSVR"}}},
{"mark":{"type":"line","strokeWidth":1.6,"interpolate":"monotone","clip":true},"encoding":{"y":{"field":"g","type":"quantitative","title":"Wind speed (m/sec)","scale":{"domain":[0,5],"nice":false}},"color":{"datum":"ϵ-TSVR"},"strokeDash":{"datum":"ϵ-TSVR"}}},
{"mark":{"type":"line","strokeWidth":2,"interpolate":"monotone","clip":true},"encoding":{"y":{"field":"p","type":"quantitative","title":"Wind speed (m/sec)","scale":{"domain":[0,5],"nice":false}},"color":{"datum":"Persistence"},"strokeDash":{"datum":"Persistence"}}},
{"data":{"values":[{"x":900,"v":0.98,"s":"Muppandal"},{"x":900,"v":0.48,"s":"Dataset: G"}]},"mark":{"type":"text","align":"left","baseline":"middle","fontSize":11.5,"font":"Liberation Sans","color":"#1a1a1a"},"encoding":{"y":{"field":"v","type":"quantitative","title":"Wind speed (m/sec)","scale":{"domain":[0,5],"nice":false}},"text":{"field":"s"}}}
]},
{"mark":{"type":"point","opacity":0},"encoding":{"x":{"field":"x","type":"quantitative","scale":{"domain":[0,1000],"nice":false,"zero":false},"axis":{"orient":"top","labels":false,"title":null,"values":[0,100,200,300,400,500,600,700,800,900,1000]}},"y":{"field":"a","type":"quantitative","scale":{"domain":[0,5],"nice":false},"axis":{"orient":"right","labels":false,"title":null,"values":[0,1,2,3,4,5]}}}}
],
"resolve":{"axis":{"x":"independent","y":"independent"}}
}
]
}
